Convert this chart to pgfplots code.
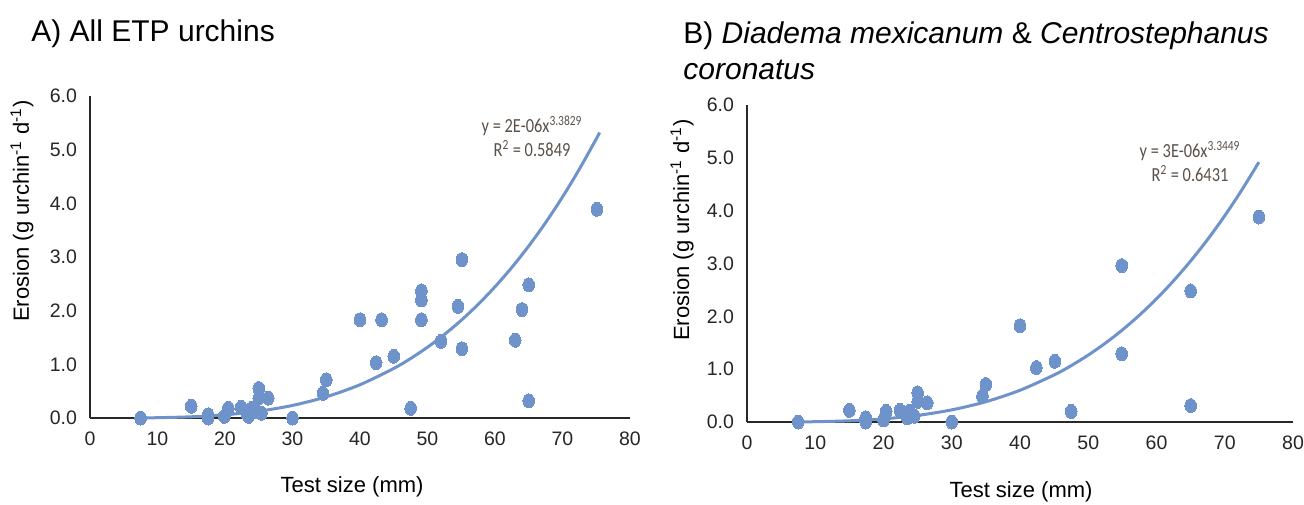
\documentclass[border=0pt]{standalone}
\usepackage{pgfplots}
\pgfplotsset{compat=1.18}
\usepackage{graphicx}
\usepackage{fontspec}
\setmainfont{Liberation Sans}
\newfontfamily\eqfont{Carlito}
\definecolor{ptblue}{RGB}{110,146,202}
\definecolor{eqbrown}{RGB}{90,80,72}
\definecolor{axgray}{RGB}{40,40,40}

\pgfplotstableread{
x y
7.5 0.00
15.0 0.22
17.5 0.00
17.5 0.06
19.9 0.03
20.5 0.18
22.4 0.20
23.2 0.09
23.5 0.03
24.0 0.18
24.7 0.12
25.0 0.55
25.0 0.37
25.4 0.09
26.4 0.37
30.0 0.00
34.5 0.46
35.0 0.71
40.0 1.83
42.4 1.03
43.2 1.83
45.0 1.15
47.5 0.18
49.1 2.37
49.1 2.20
49.1 1.83
52.0 1.43
54.5 2.08
55.1 2.95
55.1 1.29
63.0 1.45
64.0 2.02
65.0 2.48
65.0 0.32
75.1 3.89
}\dataA

\pgfplotstableread{
x y
7.5 0.0022
10 0.0057
15 0.0225
20 0.0595
25 0.1265
30 0.2343
35 0.395
40 0.620
45 0.924
47.5 1.109
50 1.319
52.5 1.556
55 1.821
57.5 2.117
60 2.445
62.5 2.807
65 3.205
67.5 3.641
70 4.118
72.5 4.638
75 5.200
75.5 5.319
}\fitA

\pgfplotstableread{
x y
7.5 0.00
15.0 0.22
17.4 0.00
17.4 0.08
20.0 0.04
20.4 0.20
22.4 0.22
23.5 0.08
23.8 0.20
24.5 0.11
25.0 0.55
25.0 0.39
26.4 0.36
30.0 0.00
34.5 0.49
35.0 0.71
40.0 1.82
42.4 1.03
45.1 1.15
47.5 0.20
54.9 2.96
54.9 1.29
65.0 2.48
65.0 0.31
75.0 3.88
}\dataB

\pgfplotstableread{
x y
7.5 0.0022
10 0.0058
15 0.0226
20 0.0591
25 0.1247
30 0.2295
35 0.384
40 0.601
45 0.891
47.5 1.067
50 1.267
52.5 1.492
55 1.743
57.5 2.023
60 2.331
62.5 2.673
65 3.048
67.5 3.457
70 3.905
72.5 4.392
75 4.919
}\fitB

\pgfplotsset{
  urch/.style={
    scale only axis,
    axis lines=left,
    axis line style={-, axgray, line width=0.75pt},
    xmin=0, xmax=80, ymin=0, ymax=6,
    xtick={0,10,...,80},
    xticklabels={0,10,20,30,40,50,60,70,80},
    ytick={0,1,...,6},
    yticklabels={0.0,1.0,2.0,3.0,4.0,5.0,6.0},
    major tick length=0pt,
    tick label style={font=\fontsize{9.75}{11}\selectfont, text=black!85},
    xticklabel style={yshift=-3.5pt},
    yticklabel style={xshift=-3pt},
    clip=false,
    anchor=south west,
  },
  pts/.style={only marks, mark=*, mark size=3.5pt,
    mark options={fill=ptblue, draw=ptblue, line width=0pt, xscale=0.83}},
  fit/.style={ptblue, line width=1.5pt, smooth, no marks},
}

\begin{document}
\begin{tikzpicture}
\path[use as bounding box] (0pt,0pt) rectangle (652pt,252pt);

% Panel A
\begin{axis}[urch, at={(45pt,43pt)}, width=270pt, height=161pt]
\addplot[pts] table[x=x,y=y] {\dataA};
\addplot[fit] table[x=x,y=y] {\fitA};
\end{axis}

% Panel B
\begin{axis}[urch, at={(373.5pt,41pt)}, width=273pt, height=158.5pt]
\addplot[pts] table[x=x,y=y] {\dataB};
\addplot[fit] table[x=x,y=y] {\fitB};
\end{axis}

\begin{scope}[x=0.5pt,y=0.5pt]
% Titles
\node[anchor=base west, inner sep=0pt, font=\fontsize{15}{18}\selectfont] at (31,462) {A) All ETP urchins};
\node[anchor=base west, inner sep=0pt, font=\fontsize{15}{18}\selectfont] at (683,460) {B) \textit{Diadema mexicanum} \& \textit{Centrostephanus}};
\node[anchor=base west, inner sep=0pt, font=\fontsize{15}{18}\selectfont] at (683,424) {\textit{coronatus}};

% Axis labels
\node[rotate=90, font=\fontsize{11}{13}\selectfont] at (22,293) {Erosion (g urchin\textsuperscript{-1} d\textsuperscript{-1})};
\node[rotate=90, font=\fontsize{11}{13}\selectfont] at (682,274) {Erosion (g urchin\textsuperscript{-1} d\textsuperscript{-1})};
\node[font=\fontsize{11}{13}\selectfont] at (352,17) {Test size (mm)};
\node[font=\fontsize{11}{13}\selectfont] at (1021,12) {Test size (mm)};

% Equations
\node[text=eqbrown, font=\eqfont\fontsize{10}{12.5}\selectfont] at (532,364) {\scalebox{0.82}[1]{\begin{tabular}{@{}c@{}}y = 2E-06x\textsuperscript{3.3829}\\[-0.5pt]R\textsuperscript{2} = 0.5849\end{tabular}}};
\node[text=eqbrown, font=\eqfont\fontsize{10}{12.5}\selectfont] at (1190,339) {\scalebox{0.82}[1]{\begin{tabular}{@{}c@{}}y = 3E-06x\textsuperscript{3.3449}\\[-0.5pt]R\textsuperscript{2} = 0.6431\end{tabular}}};
\end{scope}
\end{tikzpicture}
\end{document}
